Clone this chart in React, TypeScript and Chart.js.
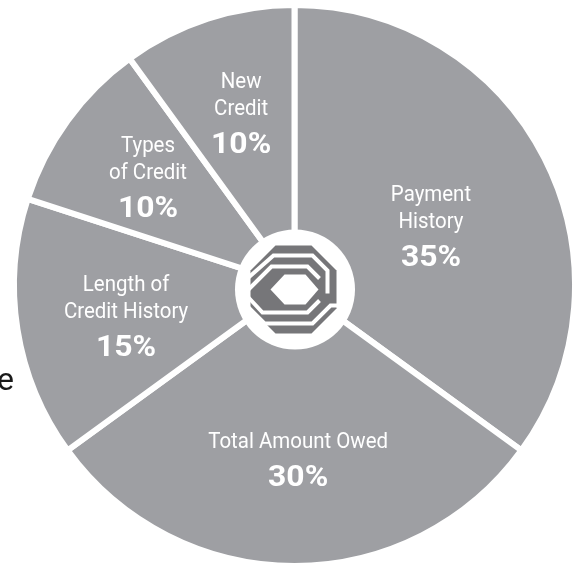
import { useEffect, useRef } from "react";
import { Chart, registerables } from "chart.js";

Chart.register(...registerables);

// ---- data ----
const categories = [
  "Payment History",
  "Total Amount Owed",
  "Length of Credit History",
  "Types of Credit",
  "New Credit",
];
const labelLines = [
  ["Payment", "History"],
  ["Total Amount Owed"],
  ["Length of", "Credit History"],
  ["Types", "of Credit"],
  ["New", "Credit"],
];
const shares = [35, 30, 15, 10, 10];
const percentLabels = ["35%", "30%", "15%", "10%", "10%"];
const sideText = "e";

// ---- styles ----
const SLICE = "#9e9fa3";
const LOGO = "#767679";
const TEXT = "#ffffff";
// [angle shift in degrees, distance as fraction of radius] for each label block
const labelPlacement = [
  [3.4, 0.531],
  [-1.2, 0.62],
  [-1.1, 0.61],
  [0.65, 0.651],
  [0.9, 0.647],
];

type Pt = [number, number];

function path(ctx: CanvasRenderingContext2D, pts: Pt[], close: boolean) {
  ctx.beginPath();
  ctx.moveTo(pts[0][0], pts[0][1]);
  for (let i = 1; i < pts.length; i++) ctx.lineTo(pts[i][0], pts[i][1]);
  if (close) ctx.closePath();
}

const overlayPlugin = {
  id: "overlay",
  afterDatasetsDraw(chart: any) {
    const ctx: CanvasRenderingContext2D = chart.ctx;
    const arcs = chart.getDatasetMeta(0).data as any[];
    if (!arcs.length) return;
    const cx = arcs[0].x;
    const cy = arcs[0].y;
    const R = arcs[0].outerRadius;

    // centre logo
    ctx.save();
    const lx = cx + 0.5;
    const ly = cy + 4;
    ctx.fillStyle = "#ffffff";
    ctx.beginPath();
    ctx.arc(lx, ly, 60, 0, Math.PI * 2);
    ctx.fill();
    ctx.translate(lx - 1.5, ly);
    ctx.fillStyle = LOGO;
    path(
      ctx,
      [
        [-18, -44],
        [18, -44],
        [43, -19],
        [43, 19],
        [18, 44],
        [-18, 44],
        [-43, 19],
        [-43, -19],
      ],
      true
    );
    ctx.fill();
    ctx.fillStyle = "#ffffff";
    path(
      ctx,
      [
        [-23, 0],
        [-9, -15],
        [12, -15],
        [25, 0],
        [12, 15],
        [-9, 15],
      ],
      true
    );
    ctx.fill();
    ctx.strokeStyle = "#ffffff";
    ctx.lineWidth = 4;
    ctx.lineJoin = "miter";
    ctx.lineCap = "butt";
    const strokes: Pt[][] = [
      [
        [-45, -12],
        [-20, -34],
        [19, -34],
        [34, -19],
        [34, 4],
      ],
      [
        [-45, 0],
        [-22, -23],
        [14, -23],
        [26, -11],
      ],
      [
        [-45, 8],
        [-31, 23],
        [14, 23],
        [26, 11],
      ],
      [
        [-45, 18],
        [-29, 34],
        [19, 34],
        [37, 16],
        [45, 16],
      ],
    ];
    strokes.forEach((s) => {
      path(ctx, s, false);
      ctx.stroke();
    });
    ctx.restore();

    // labels
    ctx.save();
    ctx.fillStyle = TEXT;
    ctx.textAlign = "center";
    ctx.textBaseline = "alphabetic";
    const lineGap = 27;
    const pctGap = 38;
    const cap = 16;
    arcs.forEach((arc: any, i: number) => {
      const [shift, frac] = labelPlacement[i];
      const mid = (arc.startAngle + arc.endAngle) / 2 + (shift * Math.PI) / 180;
      const ax = cx + Math.cos(mid) * R * frac;
      const ay = cy + Math.sin(mid) * R * frac;
      const lines = labelLines[i];
      const h = cap + lineGap * (lines.length - 1) + pctGap;
      let y = ay - h / 2 + cap;
      ctx.font = "400 22px Roboto";
      lines.forEach((ln) => {
        ctx.save();
        ctx.translate(ax, y);
        ctx.scale(0.93, 1);
        ctx.fillText(ln, 0, 0);
        ctx.restore();
        y += lineGap;
      });
      y += pctGap - lineGap;
      ctx.font = "700 29px Roboto";
      ctx.save();
      ctx.translate(ax, y);
      ctx.scale(1.1, 1);
      ctx.fillText(percentLabels[i], 0, 0);
      ctx.restore();
    });

    // cut-off text at the left edge
    ctx.fillStyle = "#1a1a1a";
    ctx.textAlign = "right";
    ctx.font = "400 32px Roboto";
    ctx.fillText(sideText, 14, 390);
    ctx.restore();
  },
};

export default function App() {
  const ref = useRef<HTMLCanvasElement | null>(null);

  useEffect(() => {
    document.body.style.margin = "0";
    const canvas = ref.current;
    if (!canvas) return;
    const chart = new Chart(canvas, {
      type: "pie",
      data: {
        labels: categories,
        datasets: [
          {
            data: shares,
            backgroundColor: SLICE,
            borderColor: "#ffffff",
            borderWidth: 6,
            hoverBorderWidth: 6,
            borderAlign: "center",
          },
        ],
      },
      options: {
        responsive: false,
        animation: false,
        radius: 280.5,
        layout: { padding: { left: 8, right: 0, top: 6, bottom: 0 } },
        plugins: {
          legend: { display: false },
          tooltip: { enabled: false },
        },
        events: [],
      },
      plugins: [overlayPlugin],
    });
    return () => chart.destroy();
  }, []);

  return (
    <div style={{ position: "absolute", left: 0, top: 0, width: 581, height: 565 }}>
      <canvas ref={ref} width={581} height={565} style={{ display: "block" }} />
    </div>
  );
}
